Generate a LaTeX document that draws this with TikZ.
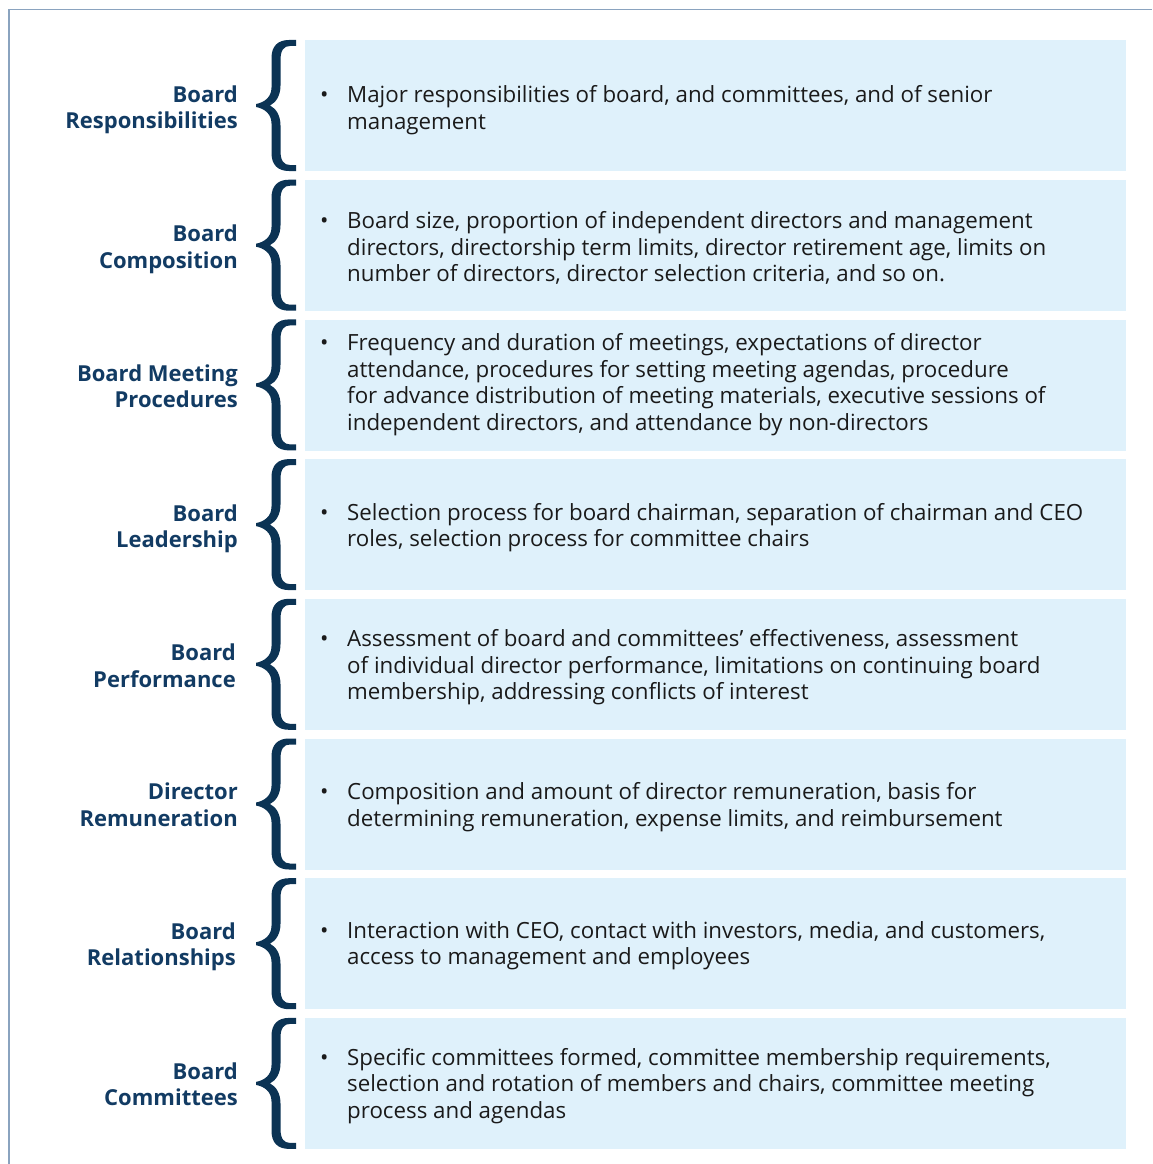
\documentclass[tikz,border=0pt]{standalone}
\usepackage{fontspec}
\setmainfont{Open Sans}
\definecolor{boxblue}{HTML}{DFF1FB}
\definecolor{bracenavy}{HTML}{0B3354}
\definecolor{labelnavy}{HTML}{123B63}
\definecolor{bodyblack}{HTML}{1A1A1A}
\definecolor{framegray}{HTML}{8AA3BF}
\newcommand\bitem[1]{\begin{tabular}{@{}p{27pt}@{}l@{}}\textbullet & #1\end{tabular}}
\begin{document}
\begin{tikzpicture}[x=1pt,y=-1pt,
 box/.style={fill=boxblue, draw=none, anchor=north west, minimum width=821pt, minimum height=131pt, inner sep=0pt},
 bracefill/.style={fill=bracenavy, draw=none},
 lbl/.style={anchor=east, align=right, font=\fontsize{22}{26.5}\selectfont\bfseries, text=labelnavy, inner sep=0pt},
 body/.style={anchor=west, font=\fontsize{22.3}{26.5}\selectfont, text=bodyblack, inner sep=0pt},
 frame/.style={draw=framegray, line width=1.5pt}]
\useasboundingbox (0,0) rectangle (1152,1164);
\draw[frame] (9,1164) -- (9,9.5) -- (1152,9.5);
\foreach \i in {0,...,7}{
 \pgfmathsetmacro\t{40+139.7*\i}
 \pgfmathsetmacro\m{\t+65.5}
 \pgfmathsetmacro\b{\t+131}
 \node[box] (b\i) at (305,\t) {};
 \fill[bracefill] (296,\t) -- (289,\t) .. controls (278,\t) and (271.5,{\t+6}) .. (271.5,{\t+18})
   -- (271.5,{\m-18}) .. controls (271.5,{\m-8}) and (264,{\m-3}) .. (256,{\m-1.5}) -- (256,{\m+1.5})
   .. controls (264,{\m+3}) and (271.5,{\m+8}) .. (271.5,{\m+18})
   -- (271.5,{\b-18}) .. controls (271.5,{\b-6}) and (278,\b) .. (289,\b) -- (296,\b)
   -- (296,{\b-6}) -- (290,{\b-6}) .. controls (284,{\b-6}) and (280.5,{\b-10}) .. (280.5,{\b-20})
   -- (280.5,{\m+20}) .. controls (280.5,{\m+10}) and (276,{\m+3}) .. (270,\m)
   .. controls (276,{\m-3}) and (280.5,{\m-10}) .. (280.5,{\m-20})
   -- (280.5,{\t+20}) .. controls (280.5,{\t+10}) and (284,{\t+6}) .. (290,{\t+6}) -- (296,{\t+6}) -- cycle;
}
\node[body] (t0) at ([xshift=15pt, yshift=-5pt]b0.west) {\bitem{Major responsibilities of board, and committees, and of senior\\ & management}};
\node[body] (t1) at ([xshift=15pt, yshift=-4.5pt]b1.west) {\bitem{Board size, proportion of independent directors and management\\ & directors, directorship term limits, director retirement age, limits on\\ & number of directors, director selection criteria, and so on.}};
\node[body] (t2) at ([xshift=15pt, yshift=0pt]b2.west) {\bitem{Frequency and duration of meetings, expectations of director\\ & attendance, procedures for setting meeting agendas, procedure\\ & for advance distribution of meeting materials, executive sessions of\\ & independent directors, and attendance by non-directors}};
\node[body] (t3) at ([xshift=15pt, yshift=-3.5pt]b3.west) {\bitem{Selection process for board chairman, separation of chairman and CEO\\ & roles, selection process for committee chairs}};
\node[body] (t4) at ([xshift=15pt, yshift=-3.5pt]b4.west) {\bitem{Assessment of board and committees’ effectiveness, assessment\\ & of individual director performance, limitations on continuing board\\ & membership, addressing conflicts of interest}};
\node[body] (t5) at ([xshift=15pt, yshift=-3.5pt]b5.west) {\bitem{Composition and amount of director remuneration, basis for\\ & determining remuneration, expense limits, and reimbursement}};
\node[body] (t6) at ([xshift=15pt, yshift=-2.5pt]b6.west) {\bitem{Interaction with CEO, contact with investors, media, and customers,\\ & access to management and employees}};
\node[body] (t7) at ([xshift=15pt, yshift=-3pt]b7.west) {\bitem{Specific committees formed, committee membership requirements,\\ & selection and rotation of members and chairs, committee meeting\\ & process and agendas}};
\node[lbl] (l0) at ([xshift=-67pt, yshift=-4pt]b0.west) {Board\\Responsibilities};
\node[lbl] (l1) at ([xshift=-67pt, yshift=-4pt]b1.west) {Board\\Composition};
\node[lbl] (l2) at ([xshift=-67pt, yshift=-1pt]b2.west) {Board Meeting\\Procedures};
\node[lbl] (l3) at ([xshift=-67pt, yshift=-4pt]b3.west) {Board\\Leadership};
\node[lbl] (l4) at ([xshift=-69pt, yshift=-1pt]b4.west) {Board\\Performance};
\node[lbl] (l5) at ([xshift=-67pt, yshift=-0.5pt]b5.west) {Director\\Remuneration};
\node[lbl] (l6) at ([xshift=-69pt, yshift=-3pt]b6.west) {Board\\Relationships};
\node[lbl] (l7) at ([xshift=-67pt, yshift=-0.5pt]b7.west) {Board\\Committees};
\end{tikzpicture}
\end{document}
